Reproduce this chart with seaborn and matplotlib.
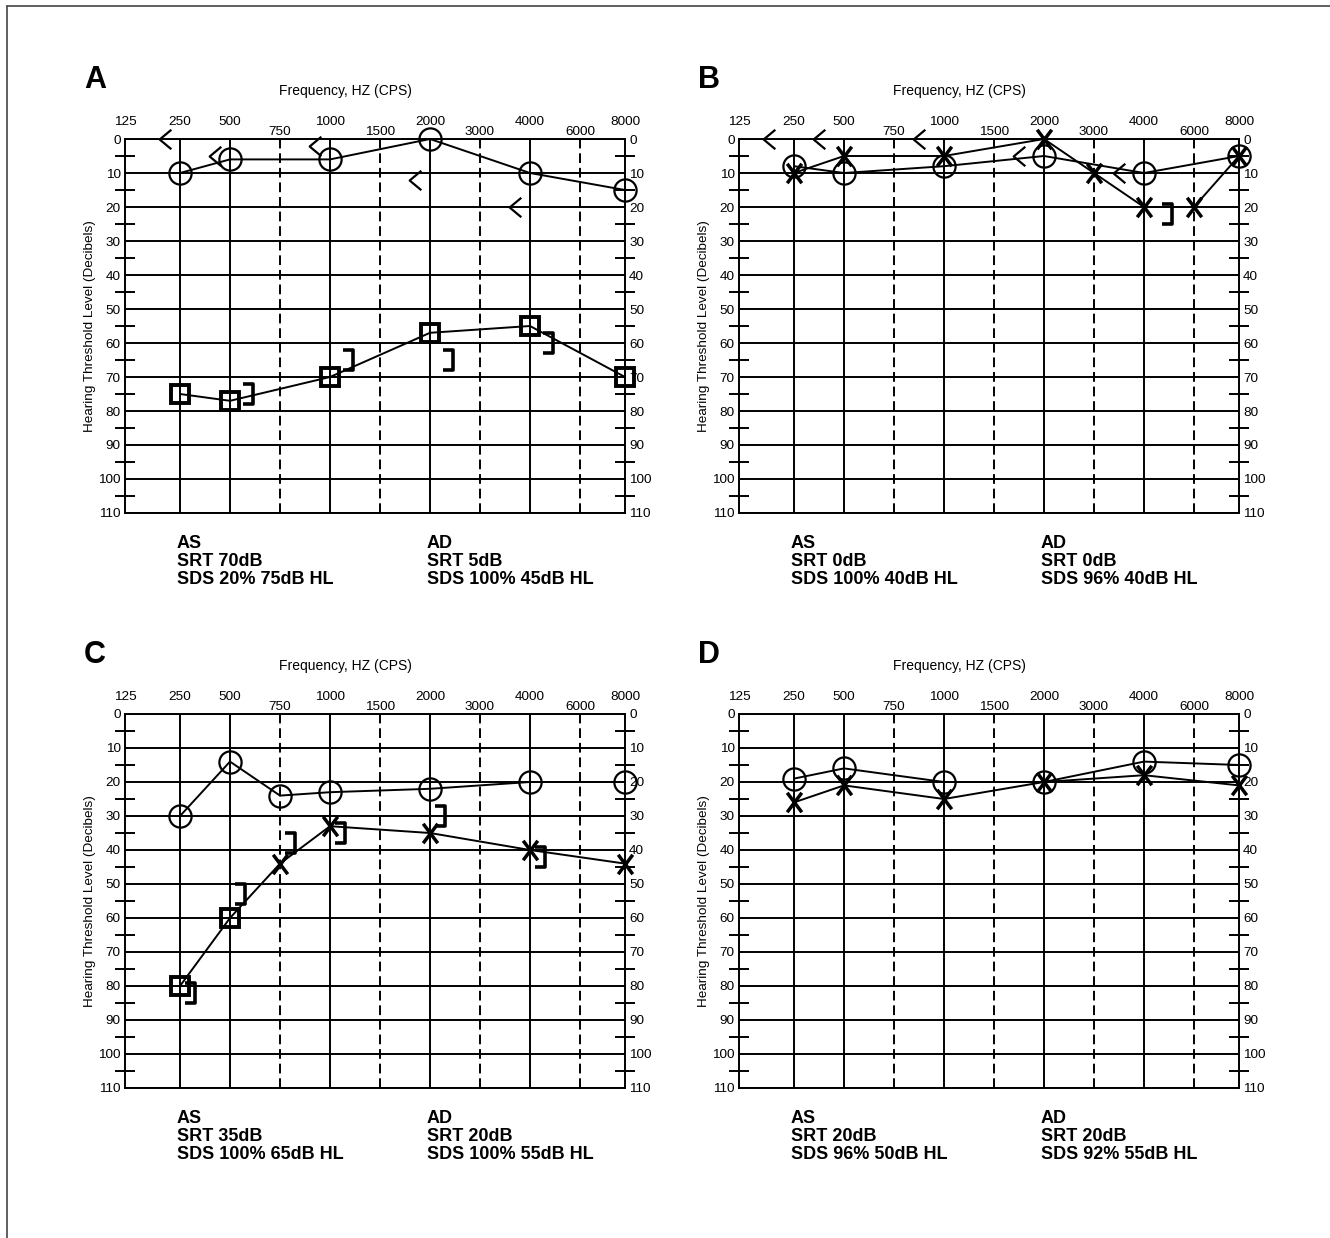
import matplotlib
matplotlib.use("Agg")
import matplotlib.pyplot as plt
from matplotlib.path import Path
import pandas as pd
import seaborn as sns

# audiogram frequency grid
FREQS = [125, 250, 500, 750, 1000, 1500, 2000, 3000, 4000, 6000, 8000]
FREQ_ROW1 = [125, 250, 500, 1000, 2000, 4000, 8000]
FREQ_ROW2 = [750, 1500, 3000, 6000]
DB_MAJOR = list(range(0, 111, 10))
DB_MINOR = list(range(5, 110, 10))

# panel A
a_ad_air_f = [250, 500, 1000, 2000, 4000, 8000]
a_ad_air_db = [10, 6, 6, 0, 10, 15]
a_as_air_f = [250, 500, 1000, 2000, 4000, 8000]
a_as_air_db = [75, 77, 70, 57, 55, 70]
a_as_masked = [True, True, True, True, True, True]
a_ad_bone_f = [250, 500, 1000, 2000, 4000]
a_ad_bone_db = [0, 5, 2, 12, 20]
a_as_bone_f = [500, 1000, 2000, 4000]
a_as_bone_db = [75, 65, 65, 60]

# panel B
b_ad_air_f = [250, 500, 1000, 2000, 4000, 8000]
b_ad_air_db = [8, 10, 8, 5, 10, 5]
b_as_air_f = [250, 500, 1000, 2000, 3000, 4000, 6000, 8000]
b_as_air_db = [10, 5, 5, 0, 10, 20, 20, 5]
b_as_masked = [False] * 8
b_ad_bone_f = [250, 500, 1000, 2000, 4000]
b_ad_bone_db = [0, 0, 0, 5, 10]
b_as_bone_f = [4000]
b_as_bone_db = [22]

# panel C
c_ad_air_f = [250, 500, 750, 1000, 2000, 4000, 8000]
c_ad_air_db = [30, 14, 24, 23, 22, 20, 20]
c_as_air_f = [250, 500, 750, 1000, 2000, 4000, 8000]
c_as_air_db = [80, 60, 44, 33, 35, 40, 44]
c_as_masked = [True, True, False, False, False, False, False]
c_ad_bone_f = []
c_ad_bone_db = []
c_as_bone_f = [250, 500, 750, 1000, 2000, 4000]
c_as_bone_db = [82, 53, 38, 35, 30, 42]

# panel D
d_ad_air_f = [250, 500, 1000, 2000, 4000, 8000]
d_ad_air_db = [19, 16, 20, 20, 14, 15]
d_as_air_f = [250, 500, 1000, 2000, 4000, 8000]
d_as_air_db = [26, 21, 25, 20, 18, 21]
d_as_masked = [False] * 6
d_ad_bone_f = []
d_ad_bone_db = []
d_as_bone_f = []
d_as_bone_db = []

# speech results under each chart
a_notes = (["AS", "SRT 70dB", "SDS 20% 75dB HL"], ["AD", "SRT 5dB", "SDS 100% 45dB HL"])
b_notes = (["AS", "SRT 0dB", "SDS 100% 40dB HL"], ["AD", "SRT 0dB", "SDS 96% 40dB HL"])
c_notes = (["AS", "SRT 35dB", "SDS 100% 65dB HL"], ["AD", "SRT 20dB", "SDS 100% 55dB HL"])
d_notes = (["AS", "SRT 20dB", "SDS 96% 50dB HL"], ["AD", "SRT 20dB", "SDS 92% 55dB HL"])

# x position of each frequency on the chart (125 and 8000 are the frame)
XPOS = {f: i for i, f in enumerate(FREQS)}
XPOS[125] = -0.1
XPOS[8000] = 9.9

LT = Path([(0.6, 1), (-0.6, 0), (0.6, -1)], [Path.MOVETO, Path.LINETO, Path.LINETO])
RB = Path([(-0.45, 1), (0.45, 1), (0.45, -1), (-0.45, -1)],
          [Path.MOVETO, Path.LINETO, Path.LINETO, Path.LINETO])
XM = Path([(-0.75, -1), (0.75, 1), (-0.75, 1), (0.75, -1)],
          [Path.MOVETO, Path.LINETO, Path.MOVETO, Path.LINETO])

sns.set_style("white")
plt.rcParams["font.family"] = ["Liberation Sans", "DejaVu Sans"]
for k in ["text.color", "axes.labelcolor", "xtick.color", "ytick.color"]:
    plt.rcParams[k] = "black"

GRID_LW = 1.4


def draw_series(ax, f, db, offset=0.0, **kw):
    if len(f) == 0:
        return
    df = pd.DataFrame({"x": [XPOS[v] + offset for v in f], "db": db})
    sns.lineplot(data=df, x="x", y="db", ax=ax, sort=False, estimator=None,
                 color="black", mfc="none", mec="black", zorder=5, clip_on=False, **kw)


def audiogram(ax, letter, ad_f, ad_db, as_f, as_db, as_masked,
              adb_f, adb_db, asb_f, asb_db, notes, lt_off=-0.3, rb_off=0.35):
    ax.set_xlim(XPOS[125], XPOS[8000])
    ax.set_ylim(110, 0)

    for d in DB_MAJOR:
        ax.axhline(d, color="black", lw=GRID_LW, zorder=1)
    for f in FREQ_ROW1[1:-1]:
        ax.axvline(XPOS[f], color="black", lw=GRID_LW, zorder=1)
    for f in FREQ_ROW2:
        ax.axvline(XPOS[f], color="black", lw=GRID_LW, ls=(0, (5, 2.5)), zorder=1)

    # right ear air (O)
    draw_series(ax, ad_f, ad_db, lw=1.4, marker="o", markersize=16, mew=1.6)
    # left ear air: line, then X / square markers
    draw_series(ax, as_f, as_db, lw=1.4)
    xf = [f for f, m in zip(as_f, as_masked) if not m]
    xd = [d for d, m in zip(as_db, as_masked) if not m]
    sf = [f for f, m in zip(as_f, as_masked) if m]
    sd = [d for d, m in zip(as_db, as_masked) if m]
    draw_series(ax, xf, xd, ls="none", marker=XM, markersize=14, mew=2.5)
    draw_series(ax, sf, sd, ls="none", marker="s", markersize=13.5, mew=2.8)
    # bone conduction
    draw_series(ax, adb_f, adb_db, offset=lt_off, ls="none", marker=LT,
                markersize=14, mew=1.6)
    draw_series(ax, asb_f, asb_db, offset=rb_off, ls="none", marker=RB,
                markersize=14.5, mew=2.6)

    ax.set_xlabel("")
    ax.xaxis.tick_top()
    ax.set_xticks([XPOS[f] for f in FREQ_ROW1], labels=[str(f) for f in FREQ_ROW1])
    ax.set_xticks([XPOS[f] for f in FREQ_ROW2], labels=[str(f) for f in FREQ_ROW2], minor=True)
    ax.tick_params(axis="x", which="major", length=0, pad=8, labelsize=9.7)
    ax.tick_params(axis="x", which="minor", length=0, pad=1, labelsize=9.7)

    ax.set_yticks(DB_MAJOR, labels=[str(d) for d in DB_MAJOR])
    ax.set_yticks(DB_MINOR, minor=True)
    ax.tick_params(axis="y", which="major", length=0, pad=3, labelsize=9.7,
                   left=True, right=True, labelleft=True, labelright=True)
    ax.tick_params(axis="y", which="minor", direction="inout", length=14,
                   width=GRID_LW, color="black", left=True, right=True)

    ax.set_ylabel("Hearing Threshold Level (Decibels)", fontsize=9.7)
    ax.yaxis.set_label_coords(-0.058, 0.5)

    for s in ax.spines.values():
        s.set_visible(True)
        s.set_color("black")
        s.set_linewidth(GRID_LW)

    ax.annotate("Frequency, HZ (CPS)", xy=(4.3, 1.0), xycoords=("data", "axes fraction"),
                xytext=(0, 34.5), textcoords="offset points",
                ha="center", va="center", fontsize=10)
    ax.annotate(letter, xy=(0, 1), xycoords="axes fraction", xytext=(-21.5, 42.5),
                textcoords="offset points", ha="center", va="center",
                fontsize=22, fontweight="bold")

    for lines, f in zip(notes, [250, 2000]):
        ax.annotate("\n".join(lines), xy=(XPOS[f] - 0.06, 0), xycoords=("data", "axes fraction"),
                    xytext=(0, -16), textcoords="offset points", ha="left", va="top",
                    fontsize=13, fontweight="bold", linespacing=1.08)


fig = plt.figure(figsize=(13.3, 12.38), dpi=100)
W, H = 1330, 1238
boxes = {
    "A": (125, 139),
    "B": (739, 139),
    "C": (125, 714),
    "D": (739, 714),
}
pw, ph = 500, 374
panels = {
    "A": (a_ad_air_f, a_ad_air_db, a_as_air_f, a_as_air_db, a_as_masked,
          a_ad_bone_f, a_ad_bone_db, a_as_bone_f, a_as_bone_db, a_notes, -0.3, 0.35),
    "B": (b_ad_air_f, b_ad_air_db, b_as_air_f, b_as_air_db, b_as_masked,
          b_ad_bone_f, b_ad_bone_db, b_as_bone_f, b_as_bone_db, b_notes, -0.5, 0.45),
    "C": (c_ad_air_f, c_ad_air_db, c_as_air_f, c_as_air_db, c_as_masked,
          c_ad_bone_f, c_ad_bone_db, c_as_bone_f, c_as_bone_db, c_notes, -0.3, 0.2),
    "D": (d_ad_air_f, d_ad_air_db, d_as_air_f, d_as_air_db, d_as_masked,
          d_ad_bone_f, d_ad_bone_db, d_as_bone_f, d_as_bone_db, d_notes, -0.3, 0.35),
}
for key, (x0, y0) in boxes.items():
    ax = fig.add_axes([x0 / W, (H - y0 - ph) / H, pw / W, ph / H])
    p = panels[key]
    audiogram(ax, key, *p[:10], lt_off=p[10], rb_off=p[11])

# thin frame along top and left of the figure
fig.add_artist(plt.Line2D([7 / W, 1], [1 - 6 / H, 1 - 6 / H], transform=fig.transFigure,
                          color="#444444", lw=1.2))
fig.add_artist(plt.Line2D([7 / W, 7 / W], [0, 1 - 6 / H], transform=fig.transFigure,
                          color="#444444", lw=1.2))

fig.savefig("out.png", dpi=100)
